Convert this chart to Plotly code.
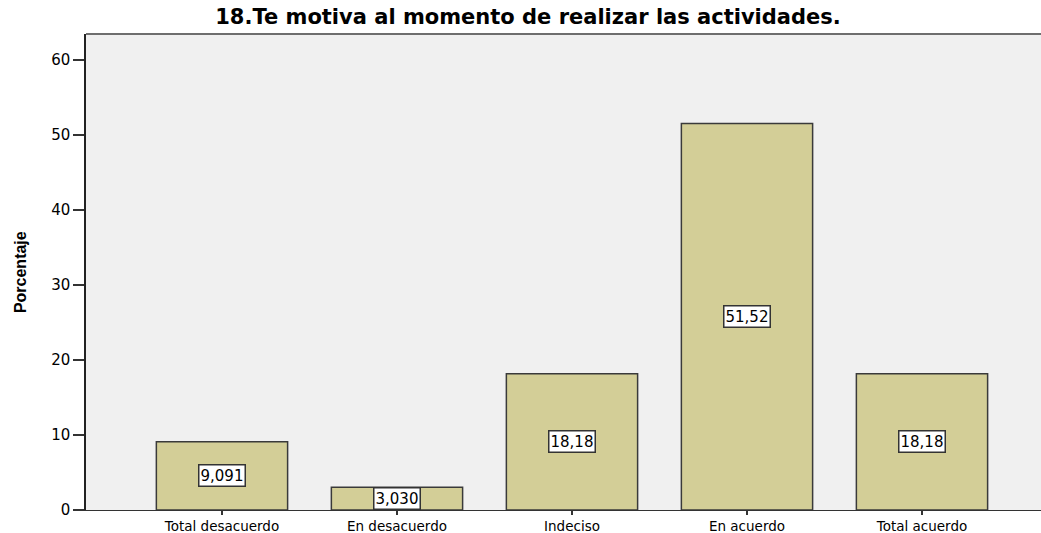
import plotly.graph_objects as go

categories = ["Total desacuerdo", "En desacuerdo", "Indeciso", "En acuerdo", "Total acuerdo"]
porcentajes = [9.091, 3.030, 18.18, 51.52, 18.18]
y_ticks = [0, 10, 20, 30, 40, 50, 60]

W, H = 1041, 533
FONT = "DejaVu Sans, Verdana, Arial"
fig = go.Figure()

fig.add_trace(go.Bar(
    x=list(range(len(categories))),
    y=porcentajes,
    width=0.75,
    marker=dict(color="#D3CE97", line=dict(color="#3A3A3A", width=1.5)),
    hoverinfo="skip",
))

# value labels inside each bar, at half height, in white boxes
for i, v in enumerate(porcentajes):
    txt = format(v, "#.4g").replace(".", ",")
    fig.add_annotation(
        x=i, y=v / 2, text=txt, showarrow=False,
        font=dict(family=FONT, size=15, color="#000"),
        bgcolor="white", bordercolor="#333", borderwidth=1.5, borderpad=1,
    )

# top border of plot area
fig.add_shape(type="line", xref="paper", yref="paper", x0=0, x1=1, y0=1, y1=1,
              line=dict(color="#6E6E6E", width=2))

# y-axis title
fig.add_annotation(
    xref="paper", yref="paper", x=-0.069, y=0.5, xanchor="center", yanchor="middle",
    text="<b>Porcentaje</b>", textangle=-90, showarrow=False,
    font=dict(family="Liberation Sans Narrow, Arial Narrow, Liberation Sans", size=16, color="#000"),
)

fig.update_layout(
    width=W, height=H,
    margin=dict(l=86, r=0, t=34, b=23),
    paper_bgcolor="white",
    plot_bgcolor="#F0F0F0",
    showlegend=False,
    title=dict(
        text="<b>18.Te motiva al momento de realizar las actividades.</b>",
        x=528 / W, xanchor="center", y=1 - 17 / H, yanchor="middle",
        font=dict(family=FONT, size=21, color="#000"),
    ),
    xaxis=dict(
        range=[-0.777, 4.68], automargin=False,
        tickmode="array", tickvals=list(range(len(categories))), ticktext=categories,
        ticks="outside", ticklen=4, tickcolor="#333", tickwidth=1.5,
        showgrid=False, zeroline=False,
        showline=True, linecolor="#333", linewidth=1,
        tickfont=dict(family=FONT, size=13.5, color="#000"),
    ),
    yaxis=dict(
        range=[0, 63.47], automargin=False,
        tickmode="array", tickvals=y_ticks, ticktext=[str(t) for t in y_ticks],
        ticks="outside", ticklen=11, tickcolor="#333", tickwidth=1.5,
        showgrid=False, zeroline=False,
        showline=True, linecolor="#222", linewidth=1.5,
        tickfont=dict(family=FONT, size=15, color="#000"),
    ),
)

fig.write_html("out.html")
